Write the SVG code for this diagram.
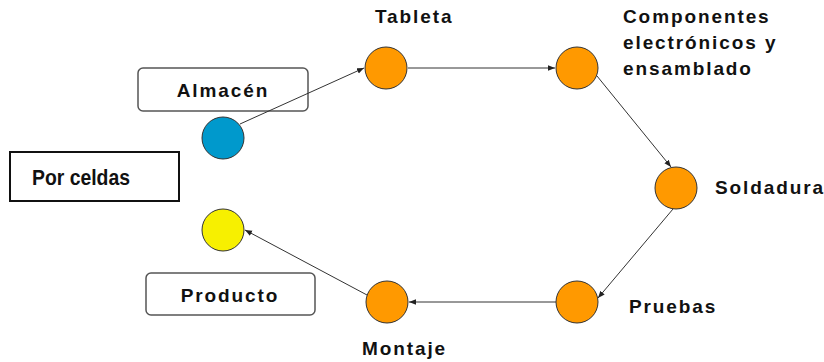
<svg xmlns="http://www.w3.org/2000/svg" width="824" height="362" viewBox="0 0 824 362">
<defs>
<marker id="ah" viewBox="0 0 10 10" refX="10" refY="5" markerWidth="7" markerHeight="7" orient="auto" markerUnits="userSpaceOnUse">
<path d="M0,1 L10,5 L0,9 Z" fill="#222"/>
</marker>
<style>
.n{stroke:#333;stroke-width:1}
.o{fill:#FF9900}
.t{font-family:"Liberation Sans",Arial,sans-serif;font-weight:bold;font-size:19px;letter-spacing:1.9px;fill:#111}
.b{fill:#fff;stroke:#555;stroke-width:1.5}
.c{stroke:#333;stroke-width:1;fill:none;marker-end:url(#ah)}
</style>
</defs>
<rect width="824" height="362" fill="#fff"/>
<g id="almacen-label">
<rect class="b" x="138" y="68" width="170" height="43" rx="5"/>
<text class="t" x="223" y="97" text-anchor="middle">Almacén</text>
</g>
<g id="por-celdas">
<rect x="10" y="152" width="169" height="49" fill="#fff" stroke="#111" stroke-width="2"/>
<text x="32" y="185" font-family="Liberation Sans,Arial,sans-serif" font-weight="bold" font-size="22" fill="#111" textLength="98" lengthAdjust="spacingAndGlyphs">Por celdas</text>
</g>
<g id="producto-label">
<rect class="b" x="146" y="273" width="169" height="42" rx="5"/>
<text class="t" x="230" y="302" text-anchor="middle">Producto</text>
</g>
<g id="connectors">
<line class="c" x1="240" y1="124" x2="364" y2="68"/>
<line class="c" x1="408" y1="68" x2="555" y2="68"/>
<line class="c" x1="597" y1="76" x2="671" y2="167"/>
<line class="c" x1="673" y1="209" x2="598" y2="298"/>
<line class="c" x1="556" y1="302" x2="409" y2="302"/>
<line class="c" x1="367" y1="295" x2="245" y2="230"/>
</g>
<g id="almacen">
<circle class="n" cx="223" cy="138" r="21" fill="#0099CC"/>
</g>
<g id="producto">
<circle class="n" cx="223" cy="230" r="21" fill="#F7F000"/>
</g>
<g id="tableta">
<circle class="n o" cx="386" cy="68" r="21"/>
<text class="t" x="375" y="23">Tableta</text>
</g>
<g id="componentes">
<circle class="n o" cx="577" cy="68" r="21"/>
<text class="t" x="623" y="23">Componentes</text>
<text class="t" x="623" y="49">electrónicos y</text>
<text class="t" x="623" y="75">ensamblado</text>
</g>
<g id="soldadura">
<circle class="n o" cx="676" cy="188" r="21"/>
<text class="t" x="715" y="194">Soldadura</text>
</g>
<g id="pruebas">
<circle class="n o" cx="577" cy="302" r="21"/>
<text class="t" x="629" y="313">Pruebas</text>
</g>
<g id="montaje">
<circle class="n o" cx="387" cy="302" r="21"/>
<text class="t" x="362" y="355">Montaje</text>
</g>
</svg>
